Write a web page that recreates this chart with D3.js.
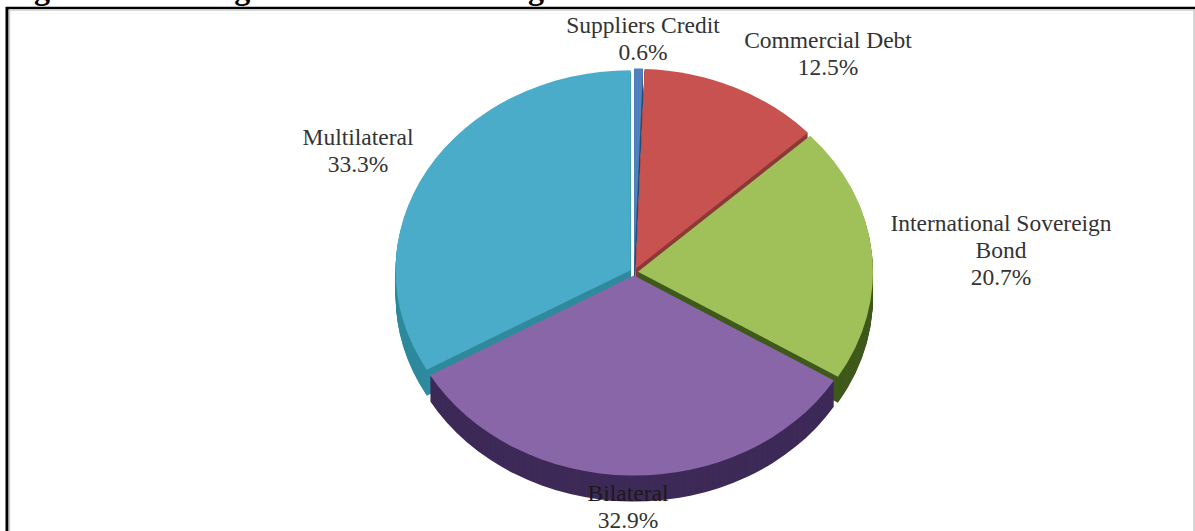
<!DOCTYPE html>
<html>
<head>
<meta charset="utf-8">
<style>
  html, body { margin: 0; padding: 0; background: #fff; overflow: hidden; }
  svg { display: block; }
  text { font-family: "Liberation Serif", serif; }
</style>
</head>
<body>
<script src="https://cdn.jsdelivr.net/npm/d3@7/dist/d3.min.js"></script>
<script>
// sources of financing, clockwise from 12 o'clock
var sources = ["Suppliers Credit", "Commercial Debt", "International Sovereign Bond", "Bilateral", "Multilateral"];
var shares = [0.6, 12.5, 20.7, 32.9, 33.3];
var titleText = "Figure 7: Existing Sources of Financing";

var width = 1195, height = 531;

var topColor = d3.scaleOrdinal().domain(sources)
  .range(["#4f81bd", "#c8524f", "#a0c05a", "#8966a8", "#4bacc9"]);
var sideColor = d3.scaleOrdinal().domain(sources)
  .range(["#2f4f78", "#8b3a38", "#3f5a1c", "#3e2a58", "#2f8a9e"]);

// label anchors: x centre, first baseline, wrapped lines
var labelSetup = {
  "Suppliers Credit": {x: 643, y: 33, lines: ["Suppliers Credit"], fill: "#333"},
  "Commercial Debt": {x: 828, y: 48, lines: ["Commercial Debt"], fill: "#333"},
  "International Sovereign Bond": {x: 1001, y: 231, lines: ["International Sovereign", "Bond"], fill: "#333"},
  "Bilateral": {x: 628, y: 501, lines: ["Bilateral"], fill: "#1a1a1a"},
  "Multilateral": {x: 358, y: 145, lines: ["Multilateral"], fill: "#333"}
};

var svg = d3.select("body").append("svg")
  .attr("width", width)
  .attr("height", height);

// title sits right at the top edge, only its descenders stay on the page
svg.append("text")
  .attr("x", 5.5)
  .attr("y", -1)
  .attr("font-size", 32)
  .attr("font-weight", "bold")
  .attr("fill", "#000")
  .text(titleText);

// frame
svg.append("line").attr("x1", 6).attr("x2", width).attr("y1", 8).attr("y2", 8)
  .attr("stroke", "#000").attr("stroke-width", 2.5);
svg.append("line").attr("x1", 7).attr("x2", 7).attr("y1", 7).attr("y2", height)
  .attr("stroke", "#000").attr("stroke-width", 3);
svg.append("line").attr("x1", 9).attr("x2", width).attr("y1", 10).attr("y2", 10)
  .attr("stroke", "#ccc").attr("stroke-width", 1.5);
svg.append("line").attr("x1", 9.5).attr("x2", 9.5).attr("y1", 10).attr("y2", height)
  .attr("stroke", "#ccc").attr("stroke-width", 1.5);
svg.append("line").attr("x1", width - 1).attr("x2", width - 1).attr("y1", 9).attr("y2", height)
  .attr("stroke", "#c8c8c8").attr("stroke-width", 1.5);

// pie tilted by squashing a unit circle
var cx = 634, cy = 272, rx = 235, ry = 200;
var depth = 26, explode = 4;

var pie = d3.pie().sort(null).value(function(d, i) { return shares[i]; });
var arcs = pie(sources);
var arc = d3.arc().innerRadius(0).outerRadius(1);

function offset(d) {
  var mid = (d.startAngle + d.endAngle) / 2;
  return [cx + explode * Math.sin(mid), cy - explode * 0.9 * Math.cos(mid)];
}

// back slices first so the front ones cover their walls
var drawOrder = arcs.slice().sort(function(a, b) {
  return Math.cos((b.startAngle + b.endAngle) / 2) - Math.cos((a.startAngle + a.endAngle) / 2);
});

var slices = svg.append("g").selectAll("g")
  .data(drawOrder)
  .enter()
  .append("g")
    .attr("transform", function(d) {
      var o = offset(d);
      return "translate(" + o[0] + "," + o[1] + ")";
    });

// side wall built from stacked copies of the slice
slices.each(function(d) {
  var g = d3.select(this);
  d3.range(depth, 0, -1).forEach(function(dy) {
    g.append("path")
      .attr("d", arc(d))
      .attr("transform", "translate(0," + dy + ") scale(" + rx + "," + ry + ")")
      .attr("fill", sideColor(d.data));
  });
  g.append("path")
    .attr("d", arc(d))
    .attr("transform", "scale(" + rx + "," + ry + ")")
    .attr("fill", topColor(d.data));
});

// labels
var lineStep = 27;
var pct = function(v) { return d3.format(".1f")(v) + "%"; };

sources.forEach(function(name, i) {
  var s = labelSetup[name];
  var t = svg.append("text")
    .attr("text-anchor", "middle")
    .attr("font-size", 23.5)
    .attr("fill", s.fill);
  s.lines.concat([pct(shares[i])]).forEach(function(line, k) {
    t.append("tspan")
      .attr("x", s.x)
      .attr("y", s.y + k * lineStep)
      .attr("fill", k === s.lines.length ? "#333" : s.fill)
      .text(line);
  });
});
</script>
</body>
</html>
